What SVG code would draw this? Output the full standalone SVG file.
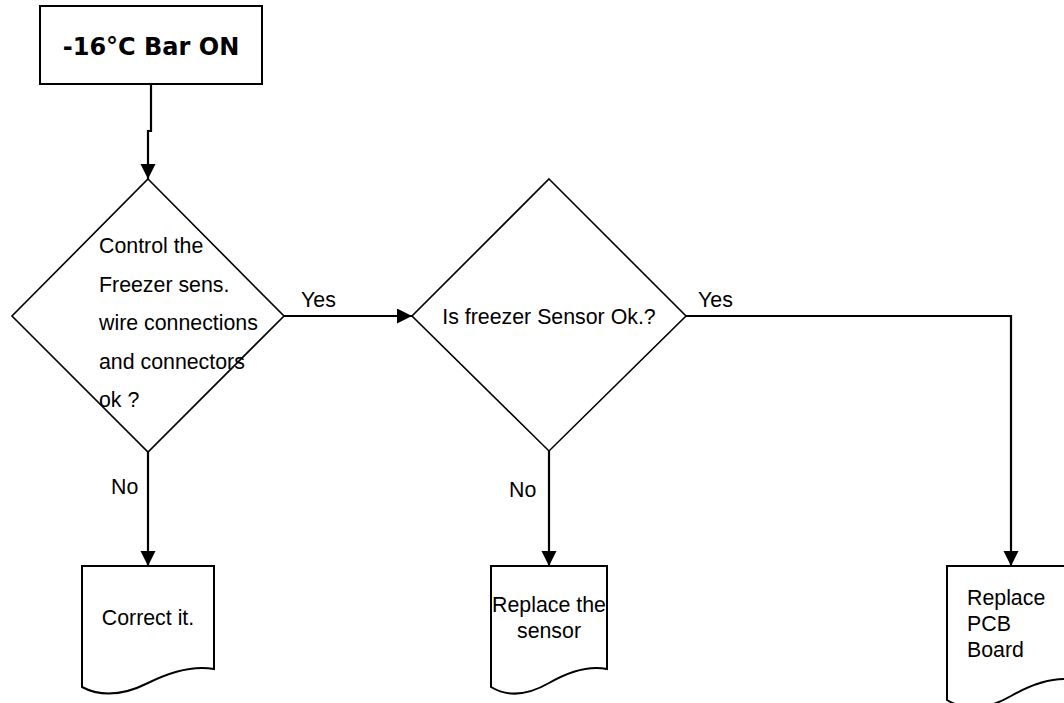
<svg xmlns="http://www.w3.org/2000/svg" width="1064" height="703" viewBox="0 0 1064 703">
<style>
.shape{fill:#fff;stroke:#000;stroke-width:2}
.dia{fill:#fff;stroke:#000;stroke-width:1.6}
.conn{fill:none;stroke:#000;stroke-width:2.2}
.t{font-family:"Liberation Sans",Arial,sans-serif;font-size:21.33px;fill:#000}
.b{font-family:"DejaVu Sans",Verdana,sans-serif;font-size:24px;font-weight:bold;fill:#000}
</style>
<defs>
<marker id="arr" markerUnits="userSpaceOnUse" markerWidth="16" markerHeight="16" viewBox="0 0 16 16" refX="15" refY="7.5" orient="auto">
<path d="M0,0 L15,7.5 L0,15 Z" fill="#000"/>
</marker>
</defs>
<rect width="1064" height="703" fill="#fff"/>
<g id="start">
<rect class="shape" x="40" y="6" width="222" height="78"/>
<text class="b" x="151" y="55" text-anchor="middle">-16°C Bar ON</text>
</g>
<g id="decision1">
<polygon class="dia" points="148,179 284,316 148,452 12,316"/>
<text class="t" x="99" y="253">Control the</text>
<text class="t" x="99" y="292">Freezer sens.</text>
<text class="t" x="99" y="330">wire connections</text>
<text class="t" x="99" y="369">and connectors</text>
<text class="t" x="99" y="407">ok ?</text>
</g>
<g id="decision2">
<polygon class="dia" points="549,179 686,316 549,451 412,316"/>
<text class="t" x="549" y="324" text-anchor="middle">Is freezer Sensor Ok.?</text>
</g>
<g id="correct">
<path class="shape" d="M82,566 H214 V669 Q186,664 148,683 Q110,702 82,687 Z"/>
<text class="t" x="148" y="625" text-anchor="middle">Correct it.</text>
</g>
<g id="replace-sensor">
<path class="shape" d="M491,566 H607 V669 Q582,664 549,683 Q516,702 491,687 Z"/>
<text class="t" x="549" y="612" text-anchor="middle">Replace the</text>
<text class="t" x="549" y="638" text-anchor="middle">sensor</text>
</g>
<g id="replace-pcb">
<path class="shape" d="M947,566 H1075 V680 Q1048,675 1011,696 Q974,717 947,700 Z"/>
<text class="t" x="967" y="605">Replace</text>
<text class="t" x="967" y="631">PCB</text>
<text class="t" x="967" y="657">Board</text>
</g>
<g id="connectors">
<path class="conn" d="M151,84 V131 H148 V179" marker-end="url(#arr)"/>
<path class="conn" d="M284,316 H412" marker-end="url(#arr)"/>
<path class="conn" d="M148,452 V566" marker-end="url(#arr)"/>
<path class="conn" d="M549,451 V566" marker-end="url(#arr)"/>
<path class="conn" d="M686,316 H1011 V566" marker-end="url(#arr)"/>
<text class="t" x="301" y="307">Yes</text>
<text class="t" x="698" y="307">Yes</text>
<text class="t" x="111" y="494">No</text>
<text class="t" x="509" y="497">No</text>
</g>
</svg>
